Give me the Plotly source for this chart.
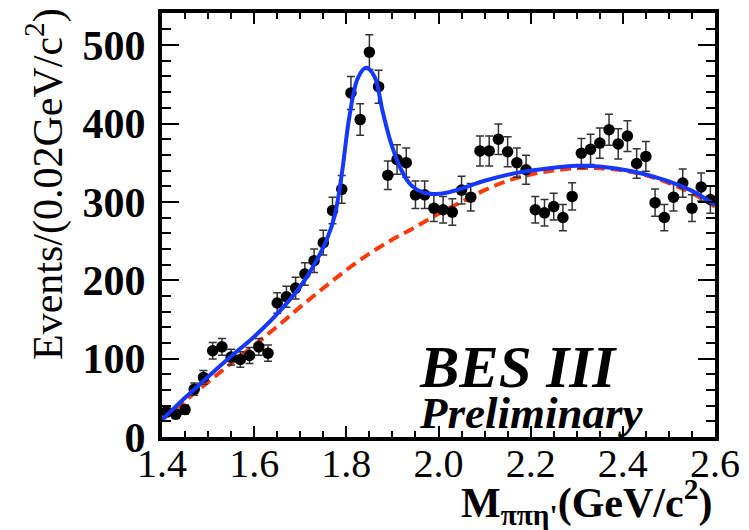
import plotly.graph_objects as go

# ---- data ----
mass = [1.41, 1.43, 1.45, 1.47, 1.49, 1.51, 1.53, 1.55, 1.57, 1.59,
        1.61, 1.63, 1.65, 1.67, 1.69, 1.71, 1.73, 1.75, 1.77, 1.79,
        1.81, 1.83, 1.85, 1.87, 1.89, 1.91, 1.93, 1.95, 1.97, 1.99,
        2.01, 2.03, 2.05, 2.07, 2.09, 2.11, 2.13, 2.15, 2.17, 2.19,
        2.21, 2.23, 2.25, 2.27, 2.29, 2.31, 2.33, 2.35, 2.37, 2.39,
        2.41, 2.43, 2.45, 2.47, 2.49, 2.51, 2.53, 2.55, 2.57, 2.59]
events = [32, 29, 35, 61, 76, 110, 115, 102, 99, 104,
          115, 107, 171, 179, 190, 208, 225, 248, 289, 316,
          439, 405, 491, 447, 334, 354, 350, 309, 309, 292,
          290, 287, 315, 306, 365, 365, 380, 364, 350, 341,
          290, 286, 294, 280, 307, 362, 367, 375, 392, 374,
          384, 349, 358, 299, 280, 306, 324, 292, 319, 303]
errors = [5.7, 5.4, 5.9, 7.8, 8.7, 10.5, 10.7, 10.1, 9.9, 10.2,
          10.7, 10.3, 13.1, 13.4, 13.8, 14.4, 15.0, 15.7, 17.0, 17.8,
          21.0, 20.1, 22.2, 21.1, 18.3, 18.8, 18.7, 17.6, 17.6, 17.1,
          17.0, 16.9, 17.7, 17.5, 19.1, 19.1, 19.5, 19.1, 18.7, 18.5,
          17.0, 16.9, 17.1, 16.7, 17.5, 19.0, 19.2, 19.4, 19.8, 19.3,
          19.6, 18.7, 18.9, 17.3, 16.7, 17.5, 18.0, 17.1, 17.9, 17.4]

fit_x = [1.40, 1.45, 1.50, 1.55, 1.60, 1.65, 1.70, 1.735, 1.757, 1.775,
         1.79, 1.807, 1.825, 1.843, 1.861, 1.879, 1.897, 1.919, 1.941, 1.966,
         1.99, 2.02, 2.06, 2.10, 2.17, 2.24, 2.30, 2.35, 2.42, 2.49, 2.55, 2.60]
fit_y = [22, 50, 77, 103, 128, 157, 192, 225, 251, 283,
         335, 410, 458, 471, 460, 415, 375, 341, 321, 312,
         310, 312, 319, 327, 337, 343, 346, 345, 339, 328, 314, 296]

bkg_x = [1.40, 1.45, 1.50, 1.55, 1.60, 1.65, 1.70, 1.75, 1.80, 1.85,
         1.90, 1.95, 2.00, 2.05, 2.10, 2.15, 2.20, 2.25, 2.30, 2.35,
         2.40, 2.45, 2.50, 2.55, 2.60]
bkg_y = [22, 46, 70, 94, 117, 141, 166, 190, 213, 234,
         252, 268, 285, 300, 315, 327, 335, 340, 343, 343,
         340, 334, 324, 311, 294]

x_ticks = [1.4, 1.6, 1.8, 2.0, 2.2, 2.4, 2.6]
x_tick_text = ["1.4", "1.6", "1.8", "2.0", "2.2", "2.4", "2.6"]
y_ticks = [0, 100, 200, 300, 400, 500]

FONT = "Liberation Serif"

fig = go.Figure()
fig.add_trace(go.Scatter(
    x=bkg_x, y=bkg_y, mode="lines", line_shape="spline",
    line=dict(color="#ff3a0a", width=4, dash="11px,6px"),
    hoverinfo="skip", showlegend=False))
fig.add_trace(go.Scatter(
    x=mass, y=events, mode="markers",
    marker=dict(color="black", size=11.5),
    error_y=dict(type="data", array=errors, color="#333333", thickness=1.5, width=4),
    showlegend=False))
fig.add_trace(go.Scatter(
    x=fit_x, y=fit_y, mode="lines", line_shape="spline",
    line=dict(color="#1438ff", width=4),
    hoverinfo="skip", showlegend=False))

axis_common = dict(showline=True, linewidth=4, linecolor="black", mirror="allticks",
                   ticks="inside", tickcolor="black", tickwidth=2,
                   showgrid=False, zeroline=False)

fig.update_xaxes(range=[1.4, 2.6], tickvals=x_ticks, ticktext=x_tick_text,
                 ticklen=11,
                 minor=dict(dtick=0.05, ticks="inside", ticklen=6, tickcolor="black", tickwidth=2),
                 tickfont=dict(family=FONT, size=40, color="black"),
                 ticklabelstandoff=-12,
                 **axis_common)
fig.update_yaxes(range=[0, 541], tickvals=y_ticks,
                 ticktext=["<b>%d</b>" % v for v in y_ticks],
                 ticklen=17,
                 minor=dict(dtick=20, ticks="inside", ticklen=9, tickcolor="black", tickwidth=2),
                 tickfont=dict(family=FONT, size=42, color="black"),
                 ticklabelstandoff=4,
                 **axis_common)

W, H = 749, 530
L, R, T, B = 162, 34, 13, 93
pw, ph = W - L - R, H - T - B

def px(x):
    return (x - L) / pw

def py(y):
    return (H - B - y) / ph

annotations = [
    dict(text="Events/(0.02GeV/c<sup>2</sup>)", xref="paper", yref="paper",
         x=px(45), y=py(184), xanchor="center", yanchor="middle", textangle=-90,
         showarrow=False, font=dict(family=FONT, size=42, color="black")),
    dict(text="<b>M<sub>ππη'</sub>(GeV/c<sup>2</sup>)</b>", xref="paper", yref="paper",
         x=px(714), y=py(502), xanchor="right", yanchor="middle",
         showarrow=False, font=dict(family=FONT, size=42, color="black")),
    dict(text="<b><i>BES III</i></b>", xref="paper", yref="paper",
         x=px(417), y=py(367), xanchor="left", yanchor="middle",
         showarrow=False, font=dict(family=FONT, size=59, color="black")),
    dict(text="<b><i>Preliminary</i></b>", xref="paper", yref="paper",
         x=px(417), y=py(413), xanchor="left", yanchor="middle",
         showarrow=False, font=dict(family=FONT, size=45, color="black")),
]

fig.update_layout(width=W, height=H, margin=dict(l=L, r=R, t=T, b=B, autoexpand=False),
                  paper_bgcolor="white", plot_bgcolor="white",
                  annotations=annotations, showlegend=False)

fig.write_html("out.html", config={"displayModeBar": False},
               post_script="document.body.style.margin='0px';document.body.style.overflow='hidden';")
